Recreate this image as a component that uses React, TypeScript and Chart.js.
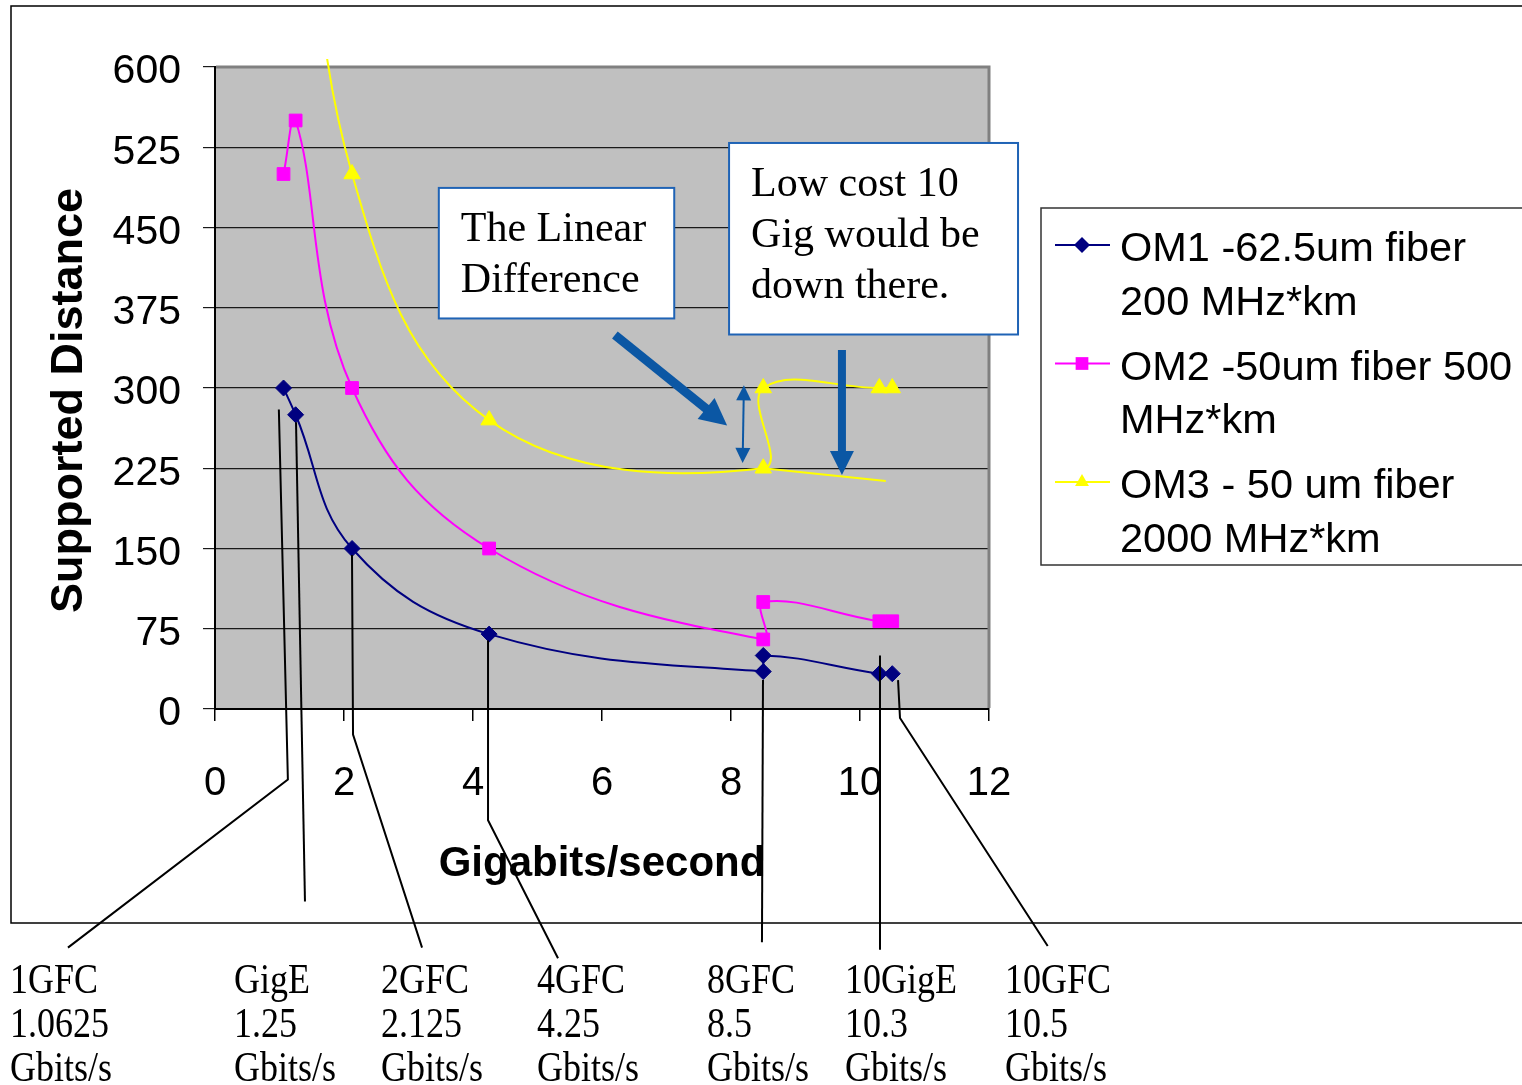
import React, { useEffect, useRef } from "react";
import { Chart, registerables } from "chart.js";

Chart.register(...registerables);

// ---- data ----
const rates = [1.0625, 1.25, 2.125, 4.25, 8.5, 8.5, 10.3, 10.5];
const om1Distances = [300, 275, 150, 70, 35, 50, 33, 33];
const om2Distances = [500, 550, 300, 150, 65, 100, 82, 82];
const om3Distances = [860, 900, 500, 270, 225, 300, 300, 300];
const om3TrendRates = [8.5, 10.4];
const om3TrendDistances = [225, 213];

const seriesNames = [
  "OM1 -62.5um fiber 200 MHz*km",
  "OM2 -50um fiber 500 MHz*km",
  "OM3 - 50 um fiber 2000 MHz*km",
];
const legendLines = [
  ["OM1 -62.5um fiber", "200 MHz*km"],
  ["OM2 -50um fiber 500", "MHz*km"],
  ["OM3 - 50 um fiber", "2000 MHz*km"],
];
const seriesColors = ["#000080", "#FF00FF", "#FFFF00"];
const seriesMarkers = ["rectRot", "rect", "triangle"];

const xTitle = "Gigabits/second";
const yTitle = "Supported Distance";

const linkNames = ["1GFC", "GigE", "2GFC", "4GFC", "8GFC", "10GigE", "10GFC"];
const linkRates = ["1.0625", "1.25", "2.125", "4.25", "8.5", "10.3", "10.5"];
const linkUnit = "Gbits/s";

const box1Lines = ["The Linear", "Difference"];
const box2Lines = ["Low cost 10", "Gig would be", "down there."];

// ---- annotation geometry (data units) ----
const linkLabelLeft = [10, 234, 381, 537, 707, 845, 1005];
const leaderLines: number[][][] = [
  [[0.99, 280], [1.13, -66], [-2.28, -223]],
  [[1.256, 268], [1.395, -180]],
  [[2.124, 144], [2.14, -24], [3.21, -223]],
  [[4.233, 64], [4.233, -104], [5.318, -233]],
  [[8.496, 27], [8.48, -218]],
  [[10.31, 50], [10.31, -225]],
  [[10.59, 27], [10.62, -8.4], [12.91, -221.5]],
];
const box1Rect = [3.47, 487, 7.12, 365];
const box2Rect = [7.97, 529, 12.45, 350];
const bigArrowDiag = [6.2, 349.5, 7.94, 265];
const bigArrowDown = [9.72, 335.5, 9.72, 218.7];
const diffArrow = [8.2, 302.5, 8.18, 230];

const BLUE = "#0B57A4";

function drawArrow(
  ctx: CanvasRenderingContext2D,
  x1: number, y1: number, x2: number, y2: number,
  shaft: number, headLen: number, headW: number, both: boolean
) {
  const dx = x2 - x1, dy = y2 - y1;
  const len = Math.hypot(dx, dy);
  const ux = dx / len, uy = dy / len;
  ctx.save();
  ctx.strokeStyle = BLUE;
  ctx.fillStyle = BLUE;
  ctx.lineWidth = shaft;
  ctx.lineCap = "butt";
  const sx = both ? x1 + ux * headLen * 0.8 : x1;
  const sy = both ? y1 + uy * headLen * 0.8 : y1;
  ctx.beginPath();
  ctx.moveTo(sx, sy);
  ctx.lineTo(x2 - ux * headLen * 0.8, y2 - uy * headLen * 0.8);
  ctx.stroke();
  const head = (tx: number, ty: number, dirx: number, diry: number) => {
    const bx = tx - dirx * headLen, by = ty - diry * headLen;
    const qx = -diry, qy = dirx;
    ctx.beginPath();
    ctx.moveTo(tx, ty);
    ctx.lineTo(bx + qx * headW / 2, by + qy * headW / 2);
    ctx.lineTo(bx - qx * headW / 2, by - qy * headW / 2);
    ctx.closePath();
    ctx.fill();
  };
  head(x2, y2, ux, uy);
  if (both) head(x1, y1, -ux, -uy);
  ctx.restore();
}

function drawMarker(ctx: CanvasRenderingContext2D, style: string, x: number, y: number, r: number, color: string) {
  ctx.save();
  ctx.fillStyle = color;
  ctx.beginPath();
  if (style === "rectRot") {
    ctx.moveTo(x - r, y); ctx.lineTo(x, y - r); ctx.lineTo(x + r, y); ctx.lineTo(x, y + r);
  } else if (style === "rect") {
    const s = r * Math.SQRT1_2;
    ctx.rect(x - s, y - s, 2 * s, 2 * s);
  } else {
    const h = r * 1.5;
    const w = r * Math.sqrt(3) / 2;
    ctx.moveTo(x, y - h * 2 / 3); ctx.lineTo(x + w, y + h / 3); ctx.lineTo(x - w, y + h / 3);
  }
  ctx.closePath();
  ctx.fill();
  ctx.restore();
}

const decorPlugin = {
  id: "decor",
  beforeDraw(chart: any) {
    const { ctx, chartArea: a } = chart;
    ctx.save();
    ctx.fillStyle = "#ffffff";
    ctx.fillRect(0, 0, chart.width, chart.height);
    ctx.fillStyle = "#C0C0C0";
    ctx.fillRect(a.left, a.top, a.right - a.left, a.bottom - a.top);
    ctx.strokeStyle = "#000";
    ctx.lineWidth = 1.5;
    ctx.strokeRect(11, 6, 1600, 917);
    ctx.restore();
  },
  beforeDatasetsDraw(chart: any) {
    const { ctx, chartArea: a } = chart;
    ctx.save();
    ctx.strokeStyle = "#808080";
    ctx.lineWidth = 3;
    ctx.beginPath();
    ctx.moveTo(a.left + 1, a.top);
    ctx.lineTo(a.right, a.top);
    ctx.lineTo(a.right, a.bottom - 1);
    ctx.stroke();
    ctx.restore();
  },
  afterDatasetsDraw(chart: any) {
    const { ctx } = chart;
    const xs = chart.scales.x, ys = chart.scales.y;
    const X = (v: number) => xs.getPixelForValue(v);
    const Y = (v: number) => ys.getPixelForValue(v);
    ctx.save();

    // leader lines
    ctx.strokeStyle = "#000";
    ctx.lineWidth = 2;
    leaderLines.forEach((pts) => {
      ctx.beginPath();
      pts.forEach((p, i) => {
        if (i === 0) ctx.moveTo(X(p[0]), Y(p[1]));
        else ctx.lineTo(X(p[0]), Y(p[1]));
      });
      ctx.stroke();
    });

    // arrows
    drawArrow(ctx, X(bigArrowDiag[0]), Y(bigArrowDiag[1]), X(bigArrowDiag[2]), Y(bigArrowDiag[3]), 9, 27, 27, false);
    drawArrow(ctx, X(bigArrowDown[0]), Y(bigArrowDown[1]), X(bigArrowDown[2]), Y(bigArrowDown[3]), 8, 24, 24, false);
    drawArrow(ctx, X(diffArrow[0]), Y(diffArrow[1]), X(diffArrow[2]), Y(diffArrow[3]), 2, 15, 15, true);

    // text boxes
    const box = (r: number[], lines: string[]) => {
      const x0 = X(r[0]), y0 = Y(r[1]), x1 = X(r[2]), y1 = Y(r[3]);
      ctx.fillStyle = "#fff";
      ctx.fillRect(x0, y0, x1 - x0, y1 - y0);
      ctx.strokeStyle = "#1F63B5";
      ctx.lineWidth = 2;
      ctx.strokeRect(x0, y0, x1 - x0, y1 - y0);
      ctx.fillStyle = "#000";
      ctx.font = '42px "Liberation Serif", serif';
      ctx.textAlign = "left";
      ctx.textBaseline = "alphabetic";
      lines.forEach((t, i) => ctx.fillText(t, x0 + 22, y0 + 53 + i * 51));
    };
    box(box1Rect, box1Lines);
    box(box2Rect, box2Lines);

    // legend
    ctx.fillStyle = "#fff";
    ctx.fillRect(1041, 208, 600, 357);
    ctx.strokeStyle = "#333";
    ctx.lineWidth = 1.5;
    ctx.strokeRect(1041, 208, 600, 357);
    ctx.font = '41.5px "Liberation Sans", Arial, sans-serif';
    ctx.textAlign = "left";
    ctx.textBaseline = "alphabetic";
    legendLines.forEach((lines, i) => {
      const base = 261 + i * 118.5;
      const ly = base - 16;
      ctx.strokeStyle = seriesColors[i];
      ctx.lineWidth = 2;
      ctx.beginPath();
      ctx.moveTo(1055, ly);
      ctx.lineTo(1110, ly);
      ctx.stroke();
      drawMarker(ctx, seriesMarkers[i], 1082, ly, i === 1 ? 9 : 8, seriesColors[i]);
      ctx.fillStyle = "#000";
      lines.forEach((t, j) => ctx.fillText(t, 1120, base + j * 53.5));
    });

    // bottom link labels
    ctx.font = '36px "Liberation Serif", serif';
    ctx.fillStyle = "#000";
    linkNames.forEach((name, i) => {
      const rows = [name, linkRates[i], linkUnit];
      rows.forEach((t, j) => {
        ctx.save();
        ctx.translate(linkLabelLeft[i], 993 + j * 44);
        ctx.scale(1, 1.2);
        ctx.fillText(t, 0, 0);
        ctx.restore();
      });
    });

    ctx.restore();
  },
};

export default function App() {
  const ref = useRef<HTMLCanvasElement | null>(null);
  useEffect(() => {
    if (!ref.current) return;
    const mk = (xsArr: number[], ysArr: number[]) => xsArr.map((x, i) => ({ x, y: ysArr[i] }));
    const chart = new Chart(ref.current, {
      type: "line",
      data: {
        datasets: [
          {
            label: seriesNames[0],
            data: mk(rates, om1Distances),
            borderColor: seriesColors[0],
            backgroundColor: seriesColors[0],
            pointStyle: "rectRot",
            pointRadius: 8,
            pointBorderWidth: 1,
            borderWidth: 2,
            tension: 0.4,
          },
          {
            label: seriesNames[1],
            data: mk(rates, om2Distances),
            borderColor: seriesColors[1],
            backgroundColor: seriesColors[1],
            pointStyle: "rect",
            pointRadius: 9,
            pointBorderWidth: 1,
            borderWidth: 2,
            tension: 0.4,
          },
          {
            label: seriesNames[2],
            data: mk(rates, om3Distances),
            borderColor: seriesColors[2],
            backgroundColor: seriesColors[2],
            pointStyle: "triangle",
            pointRadius: 9.5,
            pointBorderWidth: 1,
            borderWidth: 2,
            tension: 0.4,
            clip: { left: 0, top: 8, right: 0, bottom: 0 },
          },
          {
            label: "OM3 trend",
            data: mk(om3TrendRates, om3TrendDistances),
            borderColor: seriesColors[2],
            backgroundColor: seriesColors[2],
            pointRadius: 0,
            borderWidth: 2,
            tension: 0,
          },
        ],
      } as any,
      options: {
        responsive: false,
        animation: false,
        devicePixelRatio: 1,
        layout: { padding: { left: 40, top: 67, right: 533, bottom: 190 } },
        plugins: {
          legend: { display: false },
          tooltip: { enabled: false },
        },
        scales: {
          x: {
            type: "linear",
            min: 0,
            max: 12,
            ticks: {
              stepSize: 2,
              color: "#000",
              font: { family: '"Liberation Sans", Arial, sans-serif', size: 40 },
              padding: 39,
              maxRotation: 0,
              autoSkip: false,
            },
            grid: { drawOnChartArea: false, drawTicks: true, tickLength: 12, color: "#000", lineWidth: 1.5 },
            border: { display: true, color: "#000", width: 2 },
            title: {
              display: true,
              text: xTitle,
              color: "#000",
              font: { family: '"Liberation Sans", Arial, sans-serif', size: 42, weight: "bold" },
              padding: { top: 0, bottom: 5 },
            },
            afterFit: (s: any) => {
              s.height = 186;
            },
          },
          y: {
            min: 0,
            max: 600,
            ticks: {
              stepSize: 75,
              color: "#000",
              font: { family: '"Liberation Sans", Arial, sans-serif', size: 41 },
              padding: 22,
              labelOffset: 5,
            },
            grid: { color: "#1a1a1a", lineWidth: 1.2, tickLength: 12 },
            border: { display: true, color: "#000", width: 2 },
            title: {
              display: true,
              text: yTitle + "  ",
              color: "#000",
              font: { family: '"Liberation Sans", Arial, sans-serif', size: 45, weight: "bold" },
              padding: { top: 3, bottom: 0 },
            },
            afterFit: (s: any) => {
              s.width = 175;
            },
          },
        },
      } as any,
      plugins: [decorPlugin],
    });
    return () => chart.destroy();
  }, []);
  return (
    <div style={{ position: "absolute", left: 0, top: 0, width: 1522, height: 1085 }}>
      <canvas ref={ref} width={1522} height={1085} style={{ display: "block" }} />
    </div>
  );
}
